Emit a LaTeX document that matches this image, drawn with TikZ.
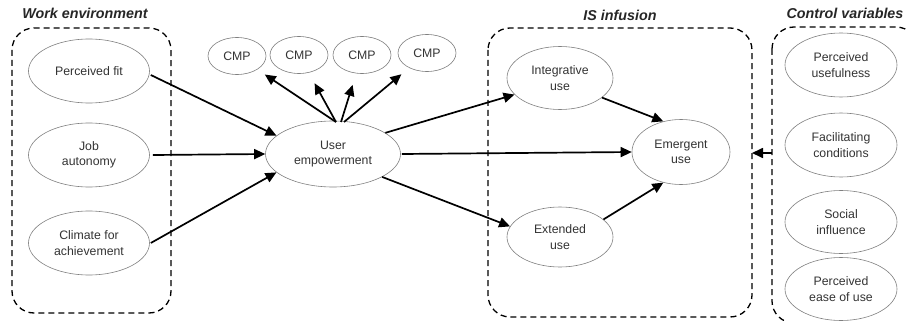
\documentclass[tikz,border=0pt]{standalone}
\usepackage{fontspec}
\setmainfont{Liberation Sans}
\usetikzlibrary{shapes.geometric,arrows.meta}
\definecolor{txt}{HTML}{333333}
\definecolor{ell}{HTML}{7F7F7F}
\tikzset{
  var/.style={ellipse, draw=ell, line width=0.6pt, inner sep=0pt, align=center,
    text=txt, font=\fontsize{12.3}{15.5}\selectfont},
  big/.style={var, minimum width=121pt, minimum height=64pt},
  cmp/.style={var, minimum width=58pt, minimum height=37pt},
  grp/.style={draw=black, line width=1.3pt, dash pattern=on 6pt off 4pt, rounded corners=22pt},
  ttl/.style={font=\fontsize{14.3}{16}\selectfont\bfseries\itshape, text=black!85},
  arr/.style={line width=1.7pt, -{Triangle[length=11pt,width=10pt]}},
}
\begin{document}
\begin{tikzpicture}[x=1pt,y=-1pt]
\useasboundingbox (0,0) rectangle (906,321);
\clip (0,0) rectangle (906,321);
% groups
\draw[grp] (12,28) rectangle (171,313);
\draw[grp] (488,28) rectangle (752,317);
\draw[grp] (772,27) rectangle (918,323);
\node[ttl] (t1) at (85,13) {Work environment};
\node[ttl] (t2) at (620,15) {IS infusion};
\node[ttl] (t3) at (845,13) {Control variables};
% work environment
\node[big] (pf) at (89,71) {Perceived fit};
\node[big] (ja) at (89,155) {Job\\autonomy};
\node[big] (ca) at (89,243) {Climate for\\achievement};
% CMPs
\node[cmp] (c1) at (237,56) {CMP};
\node[cmp] (c2) at (299,55) {CMP};
\node[cmp] (c3) at (362,55) {CMP};
\node[cmp] (c4) at (427,53) {CMP};
% user empowerment
\node[var, minimum width=135pt, minimum height=66pt] (ue) at (333,154) {User\\empowerment};
% IS infusion
\node[var, minimum width=106pt, minimum height=63pt] (iu) at (560,78) {Integrative\\use};
\node[var, minimum width=98pt, minimum height=65pt] (em) at (681,152) {Emergent\\use};
\node[var, minimum width=106pt, minimum height=60pt] (eu) at (560,237) {Extended\\use};
% control variables
\node[var, minimum width=112pt, minimum height=64pt] (pu) at (841,65) {Perceived\\usefulness};
\node[var, minimum width=112pt, minimum height=64pt] (fc) at (841,145) {Facilitating\\conditions};
\node[var, minimum width=112pt, minimum height=63pt] (si) at (841,222) {Social\\influence};
\node[var, minimum width=112pt, minimum height=63pt] (pe) at (841,289) {Perceived\\ease of use};
\coordinate (cvl) at (772,153);
\coordinate (isr) at (752,153);
% arrows
\draw[arr] (pf.east |- 0,75) ++(1,0) coordinate (a1) -- (ue.162);
\draw[arr] (ja.east) ++(3,0) coordinate (a2) -- (ue.west);
\draw[arr] (ca.east) ++(1,0) coordinate (a3) -- (ue.198);
\coordinate (u0) at (336,122);
\coordinate (u1) at (341,122);
\coordinate (u2) at (344,122);
\draw[arr, shorten >=9pt] (u0) -- (c1);
\draw[arr, shorten >=12pt] (u0) -- (c2);
\draw[arr, shorten >=12pt] (u1) -- (c3);
\draw[arr, shorten >=10pt] (u2) -- (c4);
\draw[arr] (ue.22) -- (iu.200);
\draw[arr] (ue.east) ++(1,0) coordinate (a4) -- (em.west);
\draw[arr] (ue.335) -- (eu.168);
\draw[arr] (iu.335) -- (em.120);
\draw[arr] (eu.22) -- (em.240);
\draw[arr] (cvl) -- (isr);
\end{tikzpicture}
\end{document}
